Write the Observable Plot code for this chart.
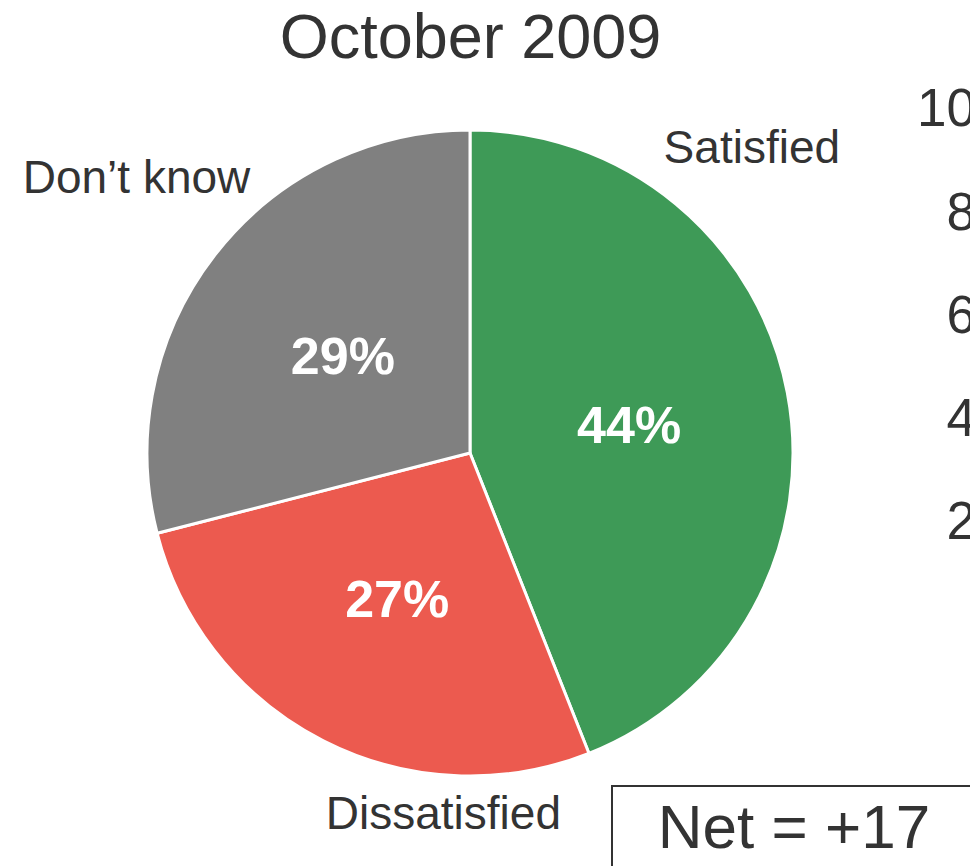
<!DOCTYPE html>
<html>
<head>
<meta charset="utf-8">
<script src="https://cdn.jsdelivr.net/npm/d3@7"></script>
<script src="https://cdn.jsdelivr.net/npm/@observablehq/plot@0.6"></script>
<style>
  html, body { margin: 0; padding: 0; background: #fff; overflow: hidden; }
  #wrap { position: relative; width: 970px; height: 866px; overflow: hidden; font-family: "Liberation Sans", Arial, sans-serif; }
  #wrap svg { position: absolute; left: 0; top: 0; max-width: none !important; }
  #net {
    position: absolute; left: 611px; top: 785px; width: 362px; height: 120px;
    border: 2px solid #333; box-sizing: content-box;
    font-size: 62px; line-height: 1; padding-top: 9px;
    text-align: center; color: #333; font-family: "Liberation Sans", Arial, sans-serif;
  }
</style>
</head>
<body>
<div id="wrap"></div>
<script>
// ---- data ----
const title = "October 2009";
const categories = ["Satisfied", "Dissatisfied", "Don’t know"];
const shares = [44, 27, 29];
const colors = ["#3e9a57", "#ec5a4f", "#808080"];
const axisTicks = [20, 40, 60, 80, 100];
const netLabel = "Net = +17";

// ---- layout (unit-circle coordinates for outside labels) ----
const labelPos = {
  "Satisfied": [0.871, 0.898],
  "Dissatisfied": [-0.084, -1.161],
  "Don’t know": [-1.034, 0.805]
};

const data = categories.map((c, i) => ({category: c, share: shares[i]}));
const arcs = d3.pie().sort(null).value(d => d.share)(data);
const unitArc = d3.arc().innerRadius(0).outerRadius(1);
const labelData = arcs.map(a => {
  const c = unitArc.centroid(a);
  return {category: a.data.category, share: a.data.share, cx: c[0], cy: -c[1]};
});

const font = "'Liberation Sans', Arial, sans-serif";

const pie = Plot.dot(data, {
  x: () => 0, y: () => 0, fill: "category",
  render(index, scales, values, dims) {
    const cx = scales.x(0), cy = scales.y(0), r = scales.x(1) - scales.x(0);
    const arc = d3.arc().innerRadius(0).outerRadius(r);
    const g = d3.create("svg:g").attr("transform", `translate(${cx},${cy})`);
    g.selectAll("path").data(arcs).join("path")
      .attr("d", arc)
      .attr("fill", (d, i) => values.fill[i])
      .attr("stroke", "white")
      .attr("stroke-width", 3)
      .attr("stroke-linejoin", "round");
    return g.node();
  }
});

const main = Plot.plot({
  width: 970,
  height: 866,
  margin: 0,
  style: {fontFamily: font, color: "#333", background: "transparent"},
  x: {domain: [-1, 1], range: [147, 793], axis: null},
  y: {domain: [-1, 1], range: [776, 130], axis: null},
  color: {domain: categories, range: colors},
  marks: [
    pie,
    Plot.text(labelData, {
      x: "cx", y: "cy", text: d => d.share + "%",
      fill: "white", fontWeight: "bold", fontSize: 52, lineAnchor: "middle", dy: 3
    }),
    Plot.text(categories, {
      x: d => labelPos[d][0], y: d => labelPos[d][1], text: d => d,
      fill: "#333", fontSize: 46, lineAnchor: "bottom", textAnchor: "middle"
    }),
    Plot.text([title], {
      x: () => 0, y: () => 1.223, text: d => d,
      fill: "#333", fontSize: 63, lineAnchor: "bottom", textAnchor: "middle"
    })
  ]
});

// Partially visible axis of the neighbouring chart (cut off at the right edge)
const side = Plot.plot({
  width: 1100,
  height: 866,
  marginLeft: 1005,
  marginRight: 0,
  marginTop: 109,
  marginBottom: 241,
  style: {fontFamily: font, color: "#333", background: "transparent", maxWidth: "none"},
  y: {domain: [0, 100]},
  marks: [
    Plot.axisY(axisTicks, {tickSize: 0, tickPadding: 0, fontSize: 53, label: null, fill: "#333"})
  ]
});

const wrap = document.getElementById("wrap");
wrap.appendChild(main);
wrap.appendChild(side);
const net = document.createElement("div");
net.id = "net";
net.textContent = netLabel;
wrap.appendChild(net);
</script>
</body>
</html>
